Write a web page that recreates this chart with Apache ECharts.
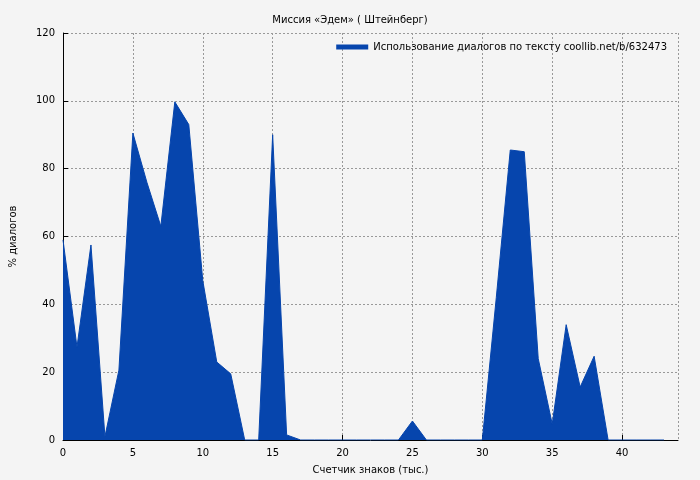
<!DOCTYPE html>
<html>
<head>
<meta charset="utf-8">
<script src="https://cdn.jsdelivr.net/npm/echarts@6/dist/echarts.min.js"></script>
<style>html,body{margin:0;padding:0;background:#f4f4f4}#chart{width:700px;height:480px}</style>
</head>
<body>
<div id="chart"></div>
<script>
var xs = [0,1,2,3,4,5,6,7,8,9,10,11,12,13,14,15,16,17,18,19,20,21,22,23,24,25,26,27,28,29,30,31,32,33,34,35,36,37,38,39,40,41,42,43];
var ys = [59,27.4,57.5,1,20.6,90.5,76,63,99.7,93,47,23,19.5,0,0,90,1.5,0,0,0,0,0,0,0,0,5.6,0,0,0,0,0,42,85.5,85,24,4.7,34,15.6,24.7,0,0,0,0,0];
var seriesName = 'Использование диалогов по тексту coollib.net/b/632473';

var data = xs.map(function (x, i) { return [x, ys[i]]; });
var chart = echarts.init(document.getElementById('chart'));
chart.setOption({
    backgroundColor: '#f4f4f4',
    animation: false,
    title: {
        text: 'Миссия «Эдем» ( Штейнберг)',
        left: 'center', top: 10,
        textStyle: {fontSize: 10, fontWeight: 'normal', color: '#000', fontFamily: 'DejaVu Sans'}
    },
    legend: {
        right: 28, top: 37, itemWidth: 32, itemHeight: 5, itemGap: 6,
        icon: 'rect',
        textStyle: {fontSize: 10, color: '#000', fontFamily: 'DejaVu Sans'},
        data: [seriesName]
    },
    grid: {left: 60, right: 22, top: 33, bottom: 40},
    xAxis: {
        type: 'value', min: 0, max: 44, interval: 5,
        name: 'Счетчик знаков (тыс.)', nameLocation: 'middle', nameGap: 25,
        nameTextStyle: {fontSize: 10, color: '#000', fontFamily: 'DejaVu Sans'},
        axisLine: {lineStyle: {color: '#000'}},
        axisTick: {inside: true, lineStyle: {color: '#000'}},
        axisLabel: {fontSize: 10, color: '#000', fontFamily: 'DejaVu Sans', showMaxLabel: false},
        splitLine: {lineStyle: {color: '#999', type: [2, 2]}}
    },
    yAxis: {
        type: 'value', min: 0, max: 120, interval: 20,
        name: '% диалогов', nameLocation: 'middle', nameGap: 45,
        nameTextStyle: {fontSize: 10, color: '#000', fontFamily: 'DejaVu Sans'},
        axisLine: {show: true, lineStyle: {color: '#000'}},
        axisTick: {inside: true, lineStyle: {color: '#000'}},
        axisLabel: {fontSize: 10, color: '#000', fontFamily: 'DejaVu Sans'},
        splitLine: {lineStyle: {color: '#999', type: [2, 2]}}
    },
    series: [{
        name: seriesName,
        type: 'line',
        data: data,
        symbol: 'none',
        color: '#0645ad',
        lineStyle: {width: 1, color: '#0645ad'},
        areaStyle: {color: '#0645ad', opacity: 1}
    }]
});
</script>
</body>
</html>
